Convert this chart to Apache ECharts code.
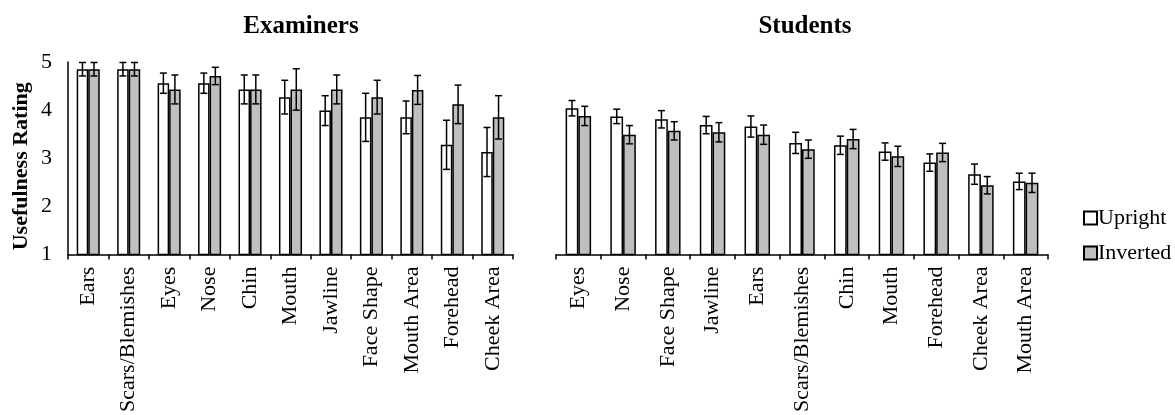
<!DOCTYPE html>
<html><head><meta charset="utf-8">
<script src="https://cdn.jsdelivr.net/npm/echarts@6/dist/echarts.min.js"></script>
<style>html,body{margin:0;padding:0;background:#fff}#c{width:1175px;height:415px}</style>
</head><body><div id="c"></div>
<script>
const examCats = ['Ears','Scars/Blemishes','Eyes','Nose','Chin','Mouth','Jawline','Face Shape','Mouth Area','Forehead','Cheek Area'];
const examUpright = [4.85,4.85,4.56,4.56,4.43,4.27,3.99,3.85,3.85,3.28,3.13];
const examUprightErr = [0.14,0.14,0.21,0.21,0.30,0.35,0.31,0.50,0.34,0.51,0.51];
const examInverted = [4.85,4.85,4.43,4.71,4.43,4.43,4.43,4.27,4.42,4.12,3.85];
const examInvertedErr = [0.14,0.14,0.30,0.18,0.30,0.43,0.30,0.35,0.30,0.40,0.45];

const studCats = ['Eyes','Nose','Face Shape','Jawline','Ears','Scars/Blemishes','Chin','Mouth','Forehead','Cheek Area','Mouth Area'];
const studUpright = [4.04,3.87,3.81,3.69,3.66,3.32,3.27,3.14,2.91,2.67,2.52];
const studUprightErr = [0.16,0.15,0.18,0.18,0.22,0.22,0.19,0.18,0.18,0.21,0.17];
const studInverted = [3.88,3.49,3.57,3.54,3.49,3.19,3.40,3.04,3.12,2.44,2.49];
const studInvertedErr = [0.20,0.19,0.19,0.20,0.20,0.19,0.20,0.21,0.19,0.18,0.20];

const yTicks = [1,2,3,4,5];

const FONT = '"Liberation Serif", "Times New Roman", serif';
const GAP = 0.43;
const gapStr = (GAP*100)+'%';

function errData(vals, errs){ return vals.map((v,i)=>[i, v-errs[i], v+errs[i]]); }
function errRender(sign){
  return function(params, api){
    const x = api.value(0);
    const pLo = api.coord([x, api.value(1)]);
    const pHi = api.coord([x, api.value(2)]);
    const band = api.size([1,0])[0];
    const bw = band*(1-GAP)/2;
    const cx = pLo[0] + sign*bw/2;
    const cap = 3.5;
    const st = {stroke:'#000', lineWidth:1.5};
    return {type:'group', children:[
      {type:'line', shape:{x1:cx,y1:pHi[1],x2:cx,y2:pLo[1]}, style:st},
      {type:'line', shape:{x1:cx-cap,y1:pHi[1],x2:cx+cap,y2:pHi[1]}, style:st},
      {type:'line', shape:{x1:cx-cap,y1:pLo[1],x2:cx+cap,y2:pLo[1]}, style:st}
    ]};
  };
}
const upStyle = {color:'#ffffff', borderColor:'#000', borderWidth:1.5};
const invStyle = {color:'#bfbfbf', borderColor:'#000', borderWidth:1.5};

function xAxis(idx, cats){
  return {type:'category', gridIndex:idx, data:cats,
    axisLine:{lineStyle:{color:'#000', width:1.5}},
    axisTick:{show:true, length:5, lineStyle:{color:'#000', width:1.5}},
    axisLabel:{rotate:90, color:'#000', fontFamily:FONT, fontSize:22, margin:12, interval:0}};
}
function yAxis(idx, show){
  return {type:'value', gridIndex:idx, min:1, max:5, interval:1,
    name: show ? 'Usefulness Rating' : '', nameLocation:'middle', nameGap:36,
    nameTextStyle:{fontFamily:FONT, fontSize:22, fontWeight:'bold', color:'#000', padding:[0,16,0,0]},
    axisLine:{show:show, lineStyle:{color:'#000', width:1.5}},
    axisTick:{show:false}, splitLine:{show:false},
    axisLabel:{show:show, color:'#000', fontFamily:FONT, fontSize:22, margin:16}};
}

const option = {
  animation:false,
  backgroundColor:'#fff',
  title:[
    {text:'Examiners', left:296, top:9, textAlign:'center', textStyle:{fontFamily:FONT, fontSize:25, fontWeight:'bold', color:'#000'}},
    {text:'Students', left:800, top:9, textAlign:'center', textStyle:{fontFamily:FONT, fontSize:25, fontWeight:'bold', color:'#000'}}
  ],
  legend:{orient:'vertical', left:1078, top:202, itemWidth:13, itemHeight:13, itemGap:13, icon:'rect',
    data:['Upright','Inverted'], textStyle:{fontFamily:FONT, fontSize:22, color:'#000', padding:[0,0,0,-4]}},
  grid:[
    {left:68, width:445, top:62, height:193},
    {left:556, width:492, top:62, height:193}
  ],
  xAxis:[xAxis(0, examCats), xAxis(1, studCats)],
  yAxis:[yAxis(0, true), yAxis(1, false)],
  series:[
    {name:'Upright', type:'bar', xAxisIndex:0, yAxisIndex:0, data:examUpright, barGap:'0%', barCategoryGap:gapStr, itemStyle:upStyle},
    {name:'Inverted', type:'bar', xAxisIndex:0, yAxisIndex:0, data:examInverted, barGap:'0%', barCategoryGap:gapStr, itemStyle:invStyle},
    {name:'Upright', type:'bar', xAxisIndex:1, yAxisIndex:1, data:studUpright, barGap:'0%', barCategoryGap:gapStr, itemStyle:upStyle},
    {name:'Inverted', type:'bar', xAxisIndex:1, yAxisIndex:1, data:studInverted, barGap:'0%', barCategoryGap:gapStr, itemStyle:invStyle},
    {type:'custom', xAxisIndex:0, yAxisIndex:0, z:5, renderItem:errRender(-1), data:errData(examUpright, examUprightErr), encode:{x:0,y:[1,2]}},
    {type:'custom', xAxisIndex:0, yAxisIndex:0, z:5, renderItem:errRender(1), data:errData(examInverted, examInvertedErr), encode:{x:0,y:[1,2]}},
    {type:'custom', xAxisIndex:1, yAxisIndex:1, z:5, renderItem:errRender(-1), data:errData(studUpright, studUprightErr), encode:{x:0,y:[1,2]}},
    {type:'custom', xAxisIndex:1, yAxisIndex:1, z:5, renderItem:errRender(1), data:errData(studInverted, studInvertedErr), encode:{x:0,y:[1,2]}}
  ]
};
echarts.init(document.getElementById('c'), null, {renderer:'canvas'}).setOption(option);
</script></body></html>
